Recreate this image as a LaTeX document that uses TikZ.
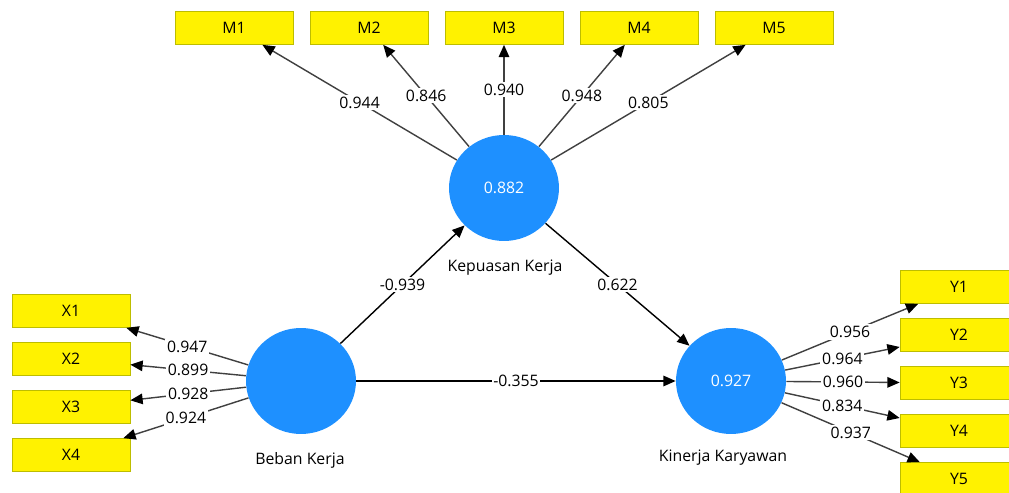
\documentclass[tikz,border=0pt]{standalone}
\usepackage{fontspec}
\setmainfont{Open Sans}
\usetikzlibrary{arrows.meta,shapes.geometric}
\definecolor{lvblue}{HTML}{1E90FF}
\definecolor{boxline}{HTML}{BDBD00}
\definecolor{pathgray}{HTML}{404040}
\tikzset{
    ind/.style={draw=boxline, fill=yellow, minimum width=2.36cm, minimum height=0.66cm, inner sep=0pt, font=\fontsize{9}{11}\selectfont},
    latent/.style={ellipse, fill=lvblue, minimum width=2.2cm, minimum height=2.12cm, inner sep=0pt, text=white, font=\fontsize{9}{11}\selectfont},
    lvname/.style={font=\fontsize{9}{11}\selectfont},
    coef/.style={fill=white, inner sep=1pt, font=\fontsize{9}{11}\selectfont},
    loading/.style={draw=pathgray, thick, -{Triangle[length=7pt,width=6pt,color=black]}},
    path/.style={draw=black, thick, -{Triangle[length=7pt,width=6pt]}}
}
\begin{document}
\begin{tikzpicture}[x=0.02cm, y=-0.02cm]
        \fill[white] (0,0) rectangle (1009,493);
        \useasboundingbox (0,0) rectangle (1009,493);

        % Latent variables
        \node[latent] (kepuasan) at (504,188) {0.882};
        \node[lvname] (kepuasanlbl) at (505,268) {Kepuasan Kerja};
        \node[latent] (beban) at (301,381) {};
        \node[lvname] (bebanlbl) at (300,460) {Beban Kerja};
        \node[latent] (kinerja) at (731,381) {0.927};
        \node[lvname] (kinerjalbl) at (723,458) {Kinerja Karyawan};

        % Indicators of Kepuasan Kerja
        \node[ind] (m1) at (234,28) {M1};
        \node[ind] (m2) at (369,28) {M2};
        \node[ind] (m3) at (504,28) {M3};
        \node[ind] (m4) at (639,28) {M4};
        \node[ind] (m5) at (774,28) {M5};
        \draw[loading] (kepuasan) -- node[coef] {0.944} (m1);
        \draw[loading] (kepuasan) -- node[coef] {0.846} (m2);
        \draw[loading] (kepuasan) -- node[coef] {0.940} (m3);
        \draw[loading] (kepuasan) -- node[coef] {0.948} (m4);
        \draw[loading] (kepuasan) -- node[coef] {0.805} (m5);

        % Indicators of Beban Kerja
        \node[ind] (x1) at (71,311) {X1};
        \node[ind] (x2) at (71,359) {X2};
        \node[ind] (x3) at (71,407) {X3};
        \node[ind] (x4) at (71,455) {X4};
        \draw[loading] (beban) -- node[coef] {0.947} (x1);
        \draw[loading] (beban) -- node[coef] {0.899} (x2);
        \draw[loading] (beban) -- node[coef] {0.928} (x3);
        \draw[loading] (beban) -- node[coef] {0.924} (x4);

        % Indicators of Kinerja Karyawan
        \node[ind] (y1) at (959,287) {Y1};
        \node[ind] (y2) at (959,335) {Y2};
        \node[ind] (y3) at (959,383) {Y3};
        \node[ind] (y4) at (959,431) {Y4};
        \node[ind] (y5) at (959,479) {Y5};
        \draw[loading] (kinerja) -- node[coef] {0.956} (y1);
        \draw[loading] (kinerja) -- node[coef] {0.964} (y2);
        \draw[loading] (kinerja) -- node[coef] {0.960} (y3);
        \draw[loading] (kinerja) -- node[coef] {0.834} (y4);
        \draw[loading] (kinerja) -- node[coef] {0.937} (y5);

        % Structural paths
        \draw[path] (beban) -- node[coef] {-0.939} (kepuasan);
        \draw[path] (kepuasan) -- node[coef] {0.622} (kinerja);
        \draw[path] (beban) -- node[coef] {-0.355} (kinerja);
    \end{tikzpicture}
\end{document}
